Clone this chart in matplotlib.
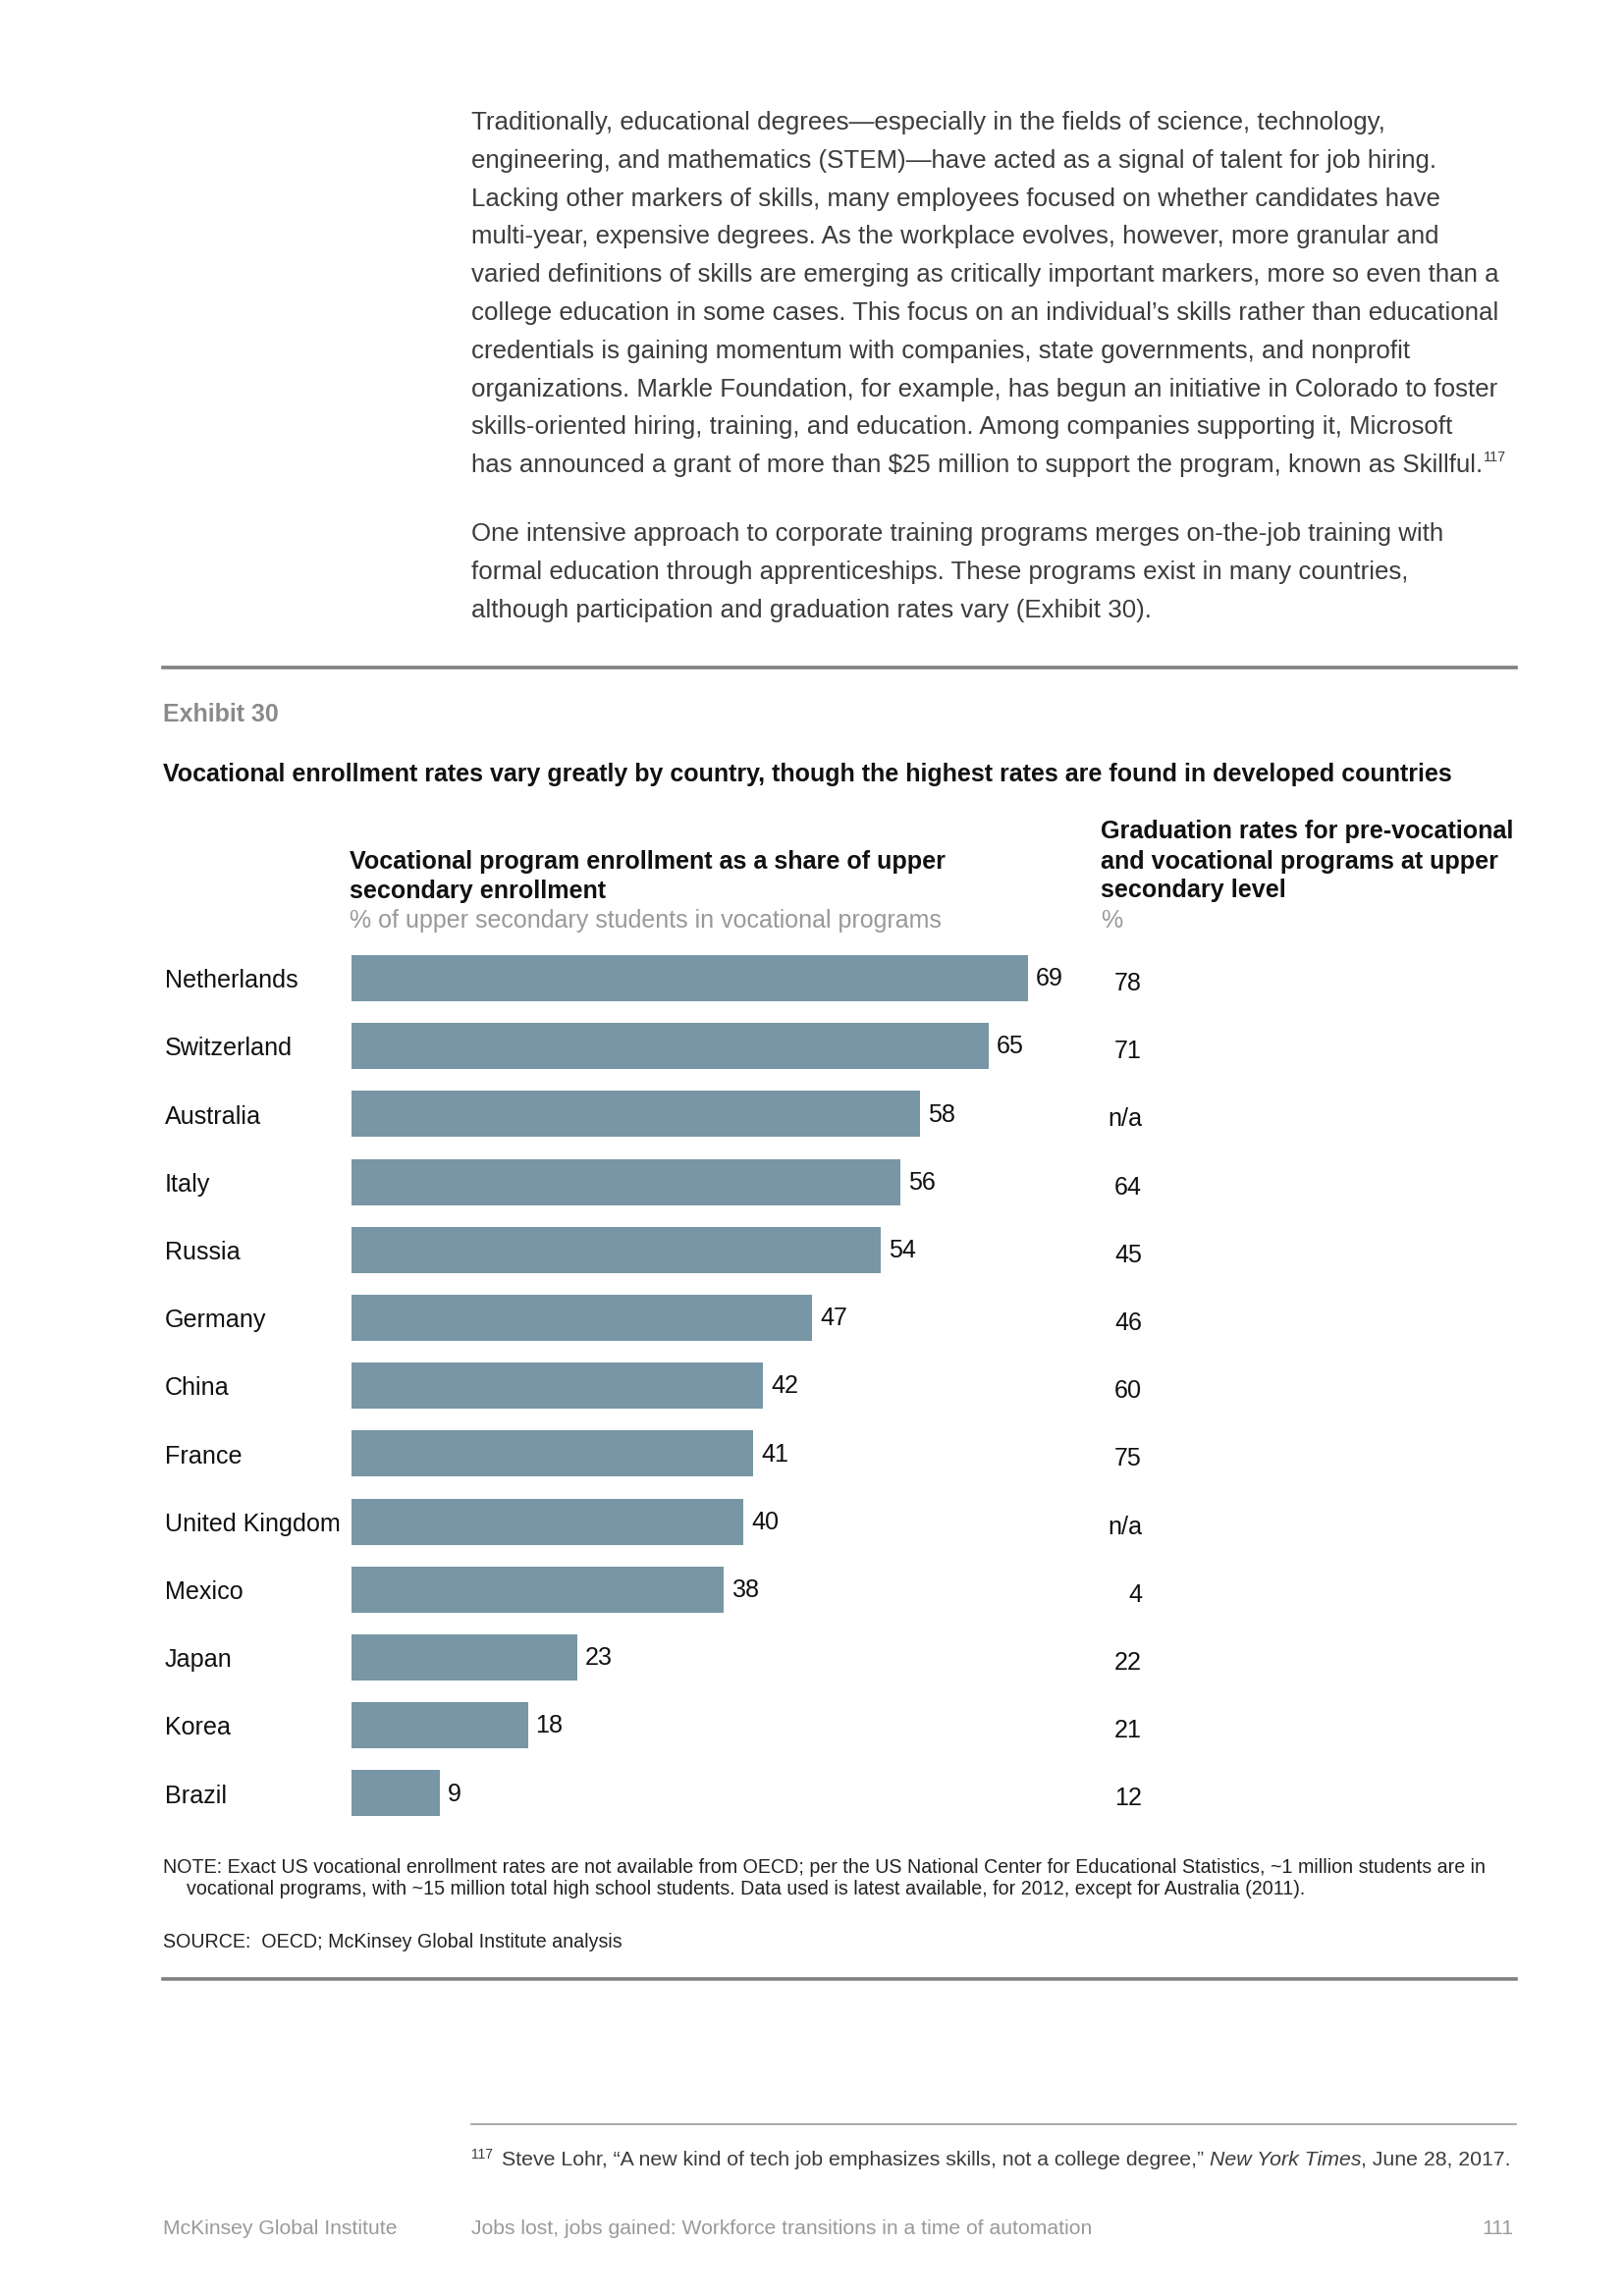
#!/usr/bin/env python3
"""Exhibit 30 page: vocational enrollment vs graduation rates, as a full A4 page."""

import matplotlib
matplotlib.use("Agg")
import matplotlib.pyplot as plt
import matplotlib.transforms as mtransforms

# ── Data ──────────────────────────────────────────────────────────────────────
countries  = ["Netherlands", "Switzerland", "Australia", "Italy", "Russia", "Germany",
              "China", "France", "United Kingdom", "Mexico", "Japan", "Korea", "Brazil"]
enrollment = [69, 65, 58, 56, 54, 47, 42, 41, 40, 38, 23, 18, 9]
graduation = ["78", "71", "n/a", "64", "45", "46", "60", "75", "n/a", "4", "22", "21", "12"]

body_par1 = [
    "Traditionally, educational degrees\u2014especially in the fields of science, technology,",
    "engineering, and mathematics (STEM)\u2014have acted as a signal of talent for job hiring.",
    "Lacking other markers of skills, many employees focused on whether candidates have",
    "multi-year, expensive degrees. As the workplace evolves, however, more granular and",
    "varied definitions of skills are emerging as critically important markers, more so even than a",
    "college education in some cases. This focus on an individual\u2019s skills rather than educational",
    "credentials is gaining momentum with companies, state governments, and nonprofit",
    "organizations. Markle Foundation, for example, has begun an initiative in Colorado to foster",
    "skills-oriented hiring, training, and education. Among companies supporting it, Microsoft",
    "has announced a grant of more than $25 million to support the program, known as Skillful.",
]
body_par2 = [
    "One intensive approach to corporate training programs merges on-the-job training with",
    "formal education through apprenticeships. These programs exist in many countries,",
    "although participation and graduation rates vary (Exhibit 30).",
]

W, H = 1654, 2339
DPI = 200
FONT = "Liberation Sans"
BAR_COLOR = "#7896a5"
RULE_COLOR = "#808080"
BODY_COLOR = "#3c3c3c"
Y_NUDGE = 3          # px: matplotlib's va="center" sits a touch high vs the reference

plt.rcParams["font.family"] = [FONT, "DejaVu Sans"]

fig = plt.figure(figsize=(W / DPI, H / DPI), dpi=DPI)
fig.patch.set_facecolor("white")


def fx(px):
    return px / W


def fy(py):
    return 1 - py / H


def put(x, y, s, **kw):
    kw.setdefault("va", "center")
    return fig.text(fx(x), fy(y + Y_NUDGE), s, **kw)


def hline(x0, x1, y, lw, color=RULE_COLOR):
    fig.add_artist(plt.Line2D([fx(x0), fx(x1)], [fy(y), fy(y)], lw=lw, color=color))


renderer = fig.canvas.get_renderer()


def right_edge(t):
    return t.get_window_extent(renderer=renderer).x1


# ── Body text ─────────────────────────────────────────────────────────────────
BODY_X, BODY_Y0, BODY_DY, BODY_FS = 480, 122, 38.8, 9.3
last = None
for i, line in enumerate(body_par1):
    last = put(BODY_X, BODY_Y0 + i * BODY_DY, line, fontsize=BODY_FS, color=BODY_COLOR)
x_sup = right_edge(last) + 1
put(x_sup, BODY_Y0 + 9 * BODY_DY - 8, "117", fontsize=5.2, color=BODY_COLOR)

for i, line in enumerate(body_par2):
    put(BODY_X, 541 + i * BODY_DY, line, fontsize=BODY_FS, color=BODY_COLOR)

# ── Exhibit frame ─────────────────────────────────────────────────────────────
hline(166, 1544, 680, 1.3)
put(166, 725, "Exhibit 30", fontsize=9.0, fontweight="bold", color="#8a8a8a")
put(166, 786, "Vocational enrollment rates vary greatly by country, though the highest "
    "rates are found in developed countries", fontsize=9.0, fontweight="bold", color="#111111")

HDR_FS = 9.05
put(356, 875, "Vocational program enrollment as a share of upper", fontsize=HDR_FS,
    fontweight="bold", color="#111111")
put(356, 905, "secondary enrollment", fontsize=HDR_FS, fontweight="bold", color="#111111")
put(356, 935, "% of upper secondary students in vocational programs", fontsize=9.0,
    color="#999999")

put(1121, 844, "Graduation rates for pre-vocational", fontsize=HDR_FS, fontweight="bold",
    color="#111111")
put(1121, 875, "and vocational programs at upper", fontsize=HDR_FS, fontweight="bold",
    color="#111111")
put(1121, 904, "secondary level", fontsize=HDR_FS, fontweight="bold", color="#111111")
put(1121, 935, "%", fontsize=9.0, color="#999999")

# ── Bars ──────────────────────────────────────────────────────────────────────
ROW0, ROW_DY = 996.5, 69.2
n = len(countries)
ax_top = ROW0 - ROW_DY / 2
ax_bot = ROW0 + (n - 0.5) * ROW_DY
X0, PX_PER_UNIT, XMAX = 358, 9.98, 80
ax = fig.add_axes([fx(X0), fy(ax_bot), fx(XMAX * PX_PER_UNIT), (ax_bot - ax_top) / H])
ypos = list(range(n))
ax.barh(ypos, enrollment, height=0.68, color=BAR_COLOR, edgecolor="none")
ax.set_xlim(0, XMAX)
ax.set_ylim(n - 0.5, -0.5)
ax.axis("off")

LAB_FS = 9.05
for y, v in zip(ypos, enrollment):
    ax.text(v + 0.8, y + 0.01, str(v), fontsize=LAB_FS, color="#111111",
            va="center", ha="left")

lab_tr = mtransforms.blended_transform_factory(fig.transFigure, ax.transData)
for y, c, g in zip(ypos, countries, graduation):
    ax.text(fx(168), y + 0.04, c, transform=lab_tr, fontsize=LAB_FS, color="#111111",
            va="center", ha="left")
    ax.text(fx(1163), y + 0.08, g, transform=lab_tr, fontsize=LAB_FS, color="#111111",
            va="center", ha="right")

# ── Notes ─────────────────────────────────────────────────────────────────────
NOTE_FS = 7.05
put(166, 1899, "NOTE: Exact US vocational enrollment rates are not available from OECD; per the "
    "US National Center for Educational Statistics, ~1 million students are in",
    fontsize=NOTE_FS, color="#222222")
put(190, 1921, "vocational programs, with ~15 million total high school students. Data used is "
    "latest available, for 2012, except for Australia (2011).", fontsize=NOTE_FS,
    color="#222222")
put(166, 1975, "SOURCE:  OECD; McKinsey Global Institute analysis", fontsize=NOTE_FS,
    color="#222222")
hline(166, 1544, 2016, 1.3)

# ── Footnote ──────────────────────────────────────────────────────────────────
hline(480, 1544, 2164, 0.6, color="#999999")
FN_FS = 7.65
t = put(480, 2192, "117", fontsize=5, color=BODY_COLOR)
x = right_edge(t) + 9
t = put(x, 2197, "Steve Lohr, \u201cA new kind of tech job emphasizes skills, not a college degree,\u201d ",
        fontsize=FN_FS, color=BODY_COLOR)
x = right_edge(t)
t = put(x, 2197, "New York Times", fontsize=FN_FS, style="italic", color=BODY_COLOR)
x = right_edge(t)
put(x, 2197, ", June 28, 2017.", fontsize=FN_FS, color=BODY_COLOR)

# ── Page footer ───────────────────────────────────────────────────────────────
put(166, 2267, "McKinsey Global Institute", fontsize=7.6, color="#9a9a9a")
put(480, 2267, "Jobs lost, jobs gained: Workforce transitions in a time of automation",
    fontsize=7.6, color="#9a9a9a")
put(1541, 2267, "111", fontsize=7.6, color="#9a9a9a", ha="right")

fig.savefig("out.png", dpi=DPI, facecolor="white")
